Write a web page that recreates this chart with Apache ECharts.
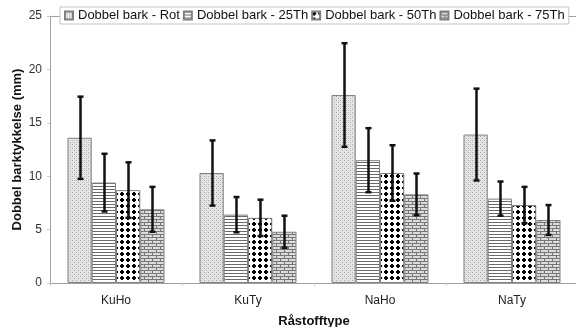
<!DOCTYPE html>
<html>
<head>
<meta charset="utf-8">
<script src="https://cdn.jsdelivr.net/npm/echarts@6/dist/echarts.min.js"></script>
<style>
  html, body { margin: 0; padding: 0; background: #fff; }
  #chart { width: 576px; height: 327px; }
</style>
</head>
<body>
<div id="chart"></div>
<script>
// Bark thickness per raw-material type, mean and ± error for each measurement point
const categories = ['KuHo', 'KuTy', 'NaHo', 'NaTy'];
const seriesNames = ['Dobbel bark - Rot', 'Dobbel bark - 25Th', 'Dobbel bark - 50Th', 'Dobbel bark - 75Th'];

const rotMean  = [13.6, 10.3, 17.6, 13.9];
const rotErr   = [3.85, 3.05, 4.85, 4.3];
const th25Mean = [9.4, 6.4, 11.5, 7.9];
const th25Err  = [2.7, 1.65, 3.0, 1.6];
const th50Mean = [8.7, 6.1, 10.3, 7.3];
const th50Err  = [2.6, 1.7, 2.6, 1.7];
const th75Mean = [6.9, 4.8, 8.3, 5.9];
const th75Err  = [2.1, 1.5, 1.95, 1.4];

const yMin = 0, yMax = 25, yStep = 5;

const means = [rotMean, th25Mean, th50Mean, th75Mean];
const errs  = [rotErr, th25Err, th50Err, th75Err];

const FONT = 'Liberation Sans, Arial, sans-serif';
const CAT_GAP = 0.265;
const AXIS_GREY = '#a0a0a0';

// --- fill patterns ---------------------------------------------------------
function tile(w, h, draw) {
  const c = document.createElement('canvas');
  c.width = w; c.height = h;
  const ctx = c.getContext('2d');
  draw(ctx, w, h);
  return { image: c, repeat: 'repeat' };
}
function px(ctx, x, y, col) { ctx.fillStyle = col; ctx.fillRect(x, y, 1, 1); }

// fine grey stipple
const patRot = tile(4, 4, (ctx) => {
  ctx.fillStyle = '#e6e6e6'; ctx.fillRect(0, 0, 4, 4);
  px(ctx, 0, 0, '#a8a8a8'); px(ctx, 2, 2, '#a8a8a8');
  px(ctx, 2, 0, '#d0d0d0'); px(ctx, 0, 2, '#d0d0d0');
});
// horizontal stripes
const pat25 = tile(4, 3, (ctx) => {
  ctx.fillStyle = '#ffffff'; ctx.fillRect(0, 0, 4, 3);
  ctx.fillStyle = '#6a6a6a'; ctx.fillRect(0, 0, 4, 1);
});
// large black dots
const pat50 = tile(6, 6, (ctx) => {
  ctx.fillStyle = '#ffffff'; ctx.fillRect(0, 0, 6, 6);
  ctx.fillStyle = '#000000';
  ctx.fillRect(1, 0, 2, 4); ctx.fillRect(0, 1, 4, 2);
});
// brick
const pat75 = tile(8, 6, (ctx) => {
  ctx.fillStyle = '#dcdcdc'; ctx.fillRect(0, 0, 8, 6);
  ctx.fillStyle = '#767676';
  ctx.fillRect(0, 0, 8, 1);
  ctx.fillRect(0, 3, 8, 1);
  ctx.fillRect(0, 1, 1, 2);
  ctx.fillRect(4, 4, 1, 2);
});
const patterns = [patRot, pat25, pat50, pat75];

// --- series ----------------------------------------------------------------
const series = [];
seriesNames.forEach((name, k) => {
  series.push({
    name: name,
    type: 'bar',
    data: means[k],
    barGap: '0%',
    barCategoryGap: (CAT_GAP * 100) + '%',
    itemStyle: { color: patterns[k], borderColor: '#808080', borderWidth: 1 },
    emphasis: { disabled: true },
    z: 2
  });
});

seriesNames.forEach((name, k) => {
  series.push({
    name: name + ' (feil)',
    type: 'custom',
    data: categories.map((c, i) => [i, means[k][i], errs[k][i]]),
    z: 5,
    silent: true,
    renderItem: function (params, api) {
      const i = api.value(0), m = api.value(1), e = api.value(2);
      const top = api.coord([i, m + e]);
      const bot = api.coord([i, m - e]);
      const band = api.size([1, 0])[0];
      const bw = band * (1 - CAT_GAP) / 4;
      const x = Math.round(top[0] + (k - 1.5) * bw) + 0.5;
      const cap = 3;
      const style = { stroke: '#111', lineWidth: 2.5 };
      return {
        type: 'group',
        children: [
          { type: 'line', shape: { x1: x, y1: top[1], x2: x, y2: bot[1] }, style: style },
          { type: 'line', shape: { x1: x - cap, y1: top[1], x2: x + cap, y2: top[1] }, style: style },
          { type: 'line', shape: { x1: x - cap, y1: bot[1], x2: x + cap, y2: bot[1] }, style: style }
        ]
      };
    }
  });
});

const chart = echarts.init(document.getElementById('chart'), null, { renderer: 'canvas' });
chart.setOption({
  animation: false,
  backgroundColor: '#ffffff',
  textStyle: { fontFamily: FONT },
  grid: { left: 50, top: 16, width: 528, bottom: 44, containLabel: false, outerBoundsMode: 'none' },
  legend: {
    data: seriesNames,
    left: 60, top: 7,
    padding: [2, 4, 2, 4],
    itemWidth: 8, itemHeight: 8, itemGap: 3,
    backgroundColor: '#ffffff',
    borderColor: '#c4c4c4', borderWidth: 1,
    icon: 'rect',
    textStyle: { fontFamily: FONT, fontSize: 13, color: '#111' }
  },
  xAxis: [{
    type: 'category',
    data: categories,
    name: 'Råstofftype',
    nameLocation: 'middle',
    nameGap: 32,
    nameTextStyle: { fontFamily: FONT, fontSize: 13, fontWeight: 'bold', color: '#111' },
    axisLine: { lineStyle: { color: AXIS_GREY, width: 1 } },
    axisTick: { show: true, length: 3, lineStyle: { color: '#c8c8c8' } },
    axisLabel: { fontFamily: FONT, fontSize: 12, color: '#222', margin: 12 },
    splitLine: { show: false }
  }, {
    // top frame line of the plot area
    type: 'category',
    data: categories,
    position: 'top',
    axisLine: { show: true, lineStyle: { color: AXIS_GREY, width: 1 } },
    axisTick: { show: false },
    axisLabel: { show: false },
    splitLine: { show: false }
  }],
  yAxis: {
    type: 'value',
    min: yMin, max: yMax, interval: yStep,
    name: 'Dobbel barktykkelse (mm)',
    nameLocation: 'middle',
    nameGap: 26,
    nameMoveOverlap: false,
    nameRotate: 90,
    nameTextStyle: { fontFamily: FONT, fontSize: 13, fontWeight: 'bold', color: '#111' },
    axisLine: { show: true, lineStyle: { color: AXIS_GREY, width: 1 } },
    axisTick: { show: true, length: 3, inside: false, lineStyle: { color: '#c8c8c8' } },
    axisLabel: { fontFamily: FONT, fontSize: 12, color: '#333', margin: 8 },
    splitLine: { show: false }
  },
  series: series
});
</script>
</body>
</html>
